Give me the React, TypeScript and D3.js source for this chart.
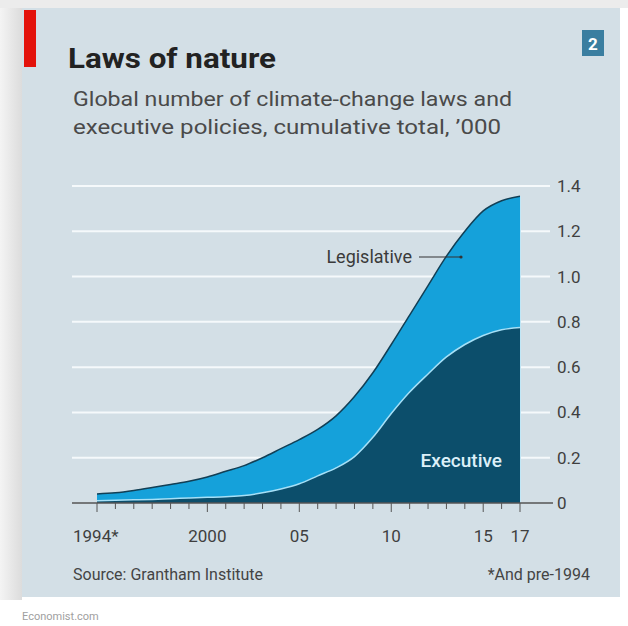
import * as d3 from 'd3'

// cumulative totals, '000
const years = [1994, 1995, 1996, 1997, 1998, 1999, 2000, 2001, 2002, 2003, 2004, 2005,
  2006, 2007, 2008, 2009, 2010, 2011, 2012, 2013, 2014, 2015, 2016, 2017]
const total = [0.04, 0.045, 0.055, 0.068, 0.082, 0.096, 0.115, 0.14, 0.165, 0.2, 0.24, 0.28,
  0.325, 0.385, 0.47, 0.575, 0.7, 0.83, 0.96, 1.09, 1.2, 1.29, 1.335, 1.355]
const executive = [0.01, 0.012, 0.014, 0.016, 0.019, 0.022, 0.025, 0.028, 0.033, 0.045, 0.062, 0.085,
  0.12, 0.155, 0.205, 0.29, 0.395, 0.49, 0.57, 0.645, 0.7, 0.74, 0.765, 0.775]
const yTicks = [0, 0.2, 0.4, 0.6, 0.8, 1.0, 1.2, 1.4]
const xLabels = [
  { year: 1994, text: '1994*' },
  { year: 2000, text: '2000' },
  { year: 2005, text: '05' },
  { year: 2010, text: '10' },
  { year: 2015, text: '15' },
  { year: 2017, text: '17' },
]

const W = 628
const H = 626
const font = 'Roboto, "Noto Sans", sans-serif'

export default function App() {
  const x = d3.scaleLinear().domain([1994, 2017]).range([97, 520])
  const y = d3.scaleLinear().domain([0, 1.4]).range([503, 186])

  const rows = years.map((yr, i) => ({ yr, t: total[i], e: executive[i] }))
  const curve = d3.curveMonotoneX

  const areaTotal = d3.area<typeof rows[0]>().x(d => x(d.yr)).y0(y(0)).y1(d => y(d.t)).curve(curve)
  const areaExec = d3.area<typeof rows[0]>().x(d => x(d.yr)).y0(y(0)).y1(d => y(d.e)).curve(curve)
  const lineTotal = d3.line<typeof rows[0]>().x(d => x(d.yr)).y(d => y(d.t)).curve(curve)
  const lineExec = d3.line<typeof rows[0]>().x(d => x(d.yr)).y(d => y(d.e)).curve(curve)

  const majors = new Set(xLabels.map(d => d.year))

  return (
    <svg width={W} height={H} style={{ position: 'absolute', left: 0, top: 0 }}>
      <defs>
        <linearGradient id="shadow" x1="0" x2="1" y1="0" y2="0">
          <stop offset="0" stopColor="#f4f4f4" />
          <stop offset="1" stopColor="#dcdcdc" />
        </linearGradient>
      </defs>
      <rect width={W} height={H} fill="#fff" />
      <rect x={0} y={0} width={22} height={600} fill="url(#shadow)" />
      <rect x={0} y={0} width={W} height={8} fill="#ececec" />
      <rect x={22} y={8} width={598} height={589} fill="#d3dfe6" />
      <rect x={24} y={10} width={12} height={57} fill="#e3120b" />

      <text x={68} y={68} fontFamily={font} fontWeight={700} fontSize={27} fill="#222"
        textLength={208} lengthAdjust="spacingAndGlyphs">Laws of nature</text>
      <text x={73} y={106} fontFamily={font} fontSize={20} fill="#4a4a4a"
        textLength={439} lengthAdjust="spacingAndGlyphs">Global number of climate-change laws and</text>
      <text x={73} y={134} fontFamily={font} fontSize={20} fill="#4a4a4a"
        textLength={428} lengthAdjust="spacingAndGlyphs">executive policies, cumulative total, ’000</text>

      <rect x={582} y={30} width={22} height={26} fill="#3a7ea0" />
      <text x={593} y={50} textAnchor="middle" fontFamily={font} fontWeight={700} fontSize={17} fill="#fff">2</text>

      {yTicks.filter(t => t > 0).map(t => (
        <line key={t} x1={72} x2={550} y1={y(t)} y2={y(t)} stroke="#f5f9fb" strokeWidth={2} />
      ))}

      <path d={areaTotal(rows) ?? ''} fill="#15a1da" />
      <path d={areaExec(rows) ?? ''} fill="#0c4e6b" />
      <path d={lineTotal(rows) ?? ''} fill="none" stroke="#123f55" strokeWidth={1.5} />
      <path d={lineExec(rows) ?? ''} fill="none" stroke="#a6e0f7" strokeWidth={1.5} />
      <line x1={x(2017) + 0.5} x2={x(2017) + 0.5} y1={y(0)} y2={y(total[total.length - 1])}
        stroke="#bfe6f6" strokeWidth={1} />

      <line x1={72} x2={553} y1={y(0)} y2={y(0)} stroke="#555" strokeWidth={1.5} />
      {years.map(yr => (
        <line key={yr} x1={x(yr)} x2={x(yr)} y1={y(0)} y2={y(0) + (majors.has(yr) ? 9 : 6)}
          stroke="#555" strokeWidth={1} />
      ))}

      {yTicks.map(t => (
        <text key={t} x={557} y={y(t)} dy="0.35em" fontFamily={font} fontSize={17} fill="#3f3f3f">
          {t === 0 ? '0' : t.toFixed(1)}
        </text>
      ))}

      {xLabels.map(d => (
        <text key={d.year} x={x(d.year)} y={542} textAnchor={d.year === 1994 ? 'start' : 'middle'}
          dx={d.year === 1994 ? -24 : 0} fontFamily={font} fontSize={17} fill="#3f3f3f">{d.text}</text>
      ))}

      <text x={412} y={263} textAnchor="end" fontFamily={font} fontSize={18} fill="#3a3a3a">Legislative</text>
      <line x1={419} x2={461} y1={257} y2={257} stroke="#333" strokeWidth={1.2} />
      <circle cx={461} cy={257} r={1.6} fill="#333" />
      <text x={502} y={467} textAnchor="end" fontFamily={font} fontWeight={500} fontSize={19} fill="#dcf0f9">Executive</text>

      <text x={73} y={580} fontFamily={font} fontSize={16} fill="#444">Source: Grantham Institute</text>
      <text x={590} y={580} textAnchor="end" fontFamily={font} fontSize={16} fill="#444">*And pre-1994</text>

      <text x={22} y={620} fontFamily={font} fontSize={11} fill="#a0a0a0">Economist.com</text>
    </svg>
  )
}
